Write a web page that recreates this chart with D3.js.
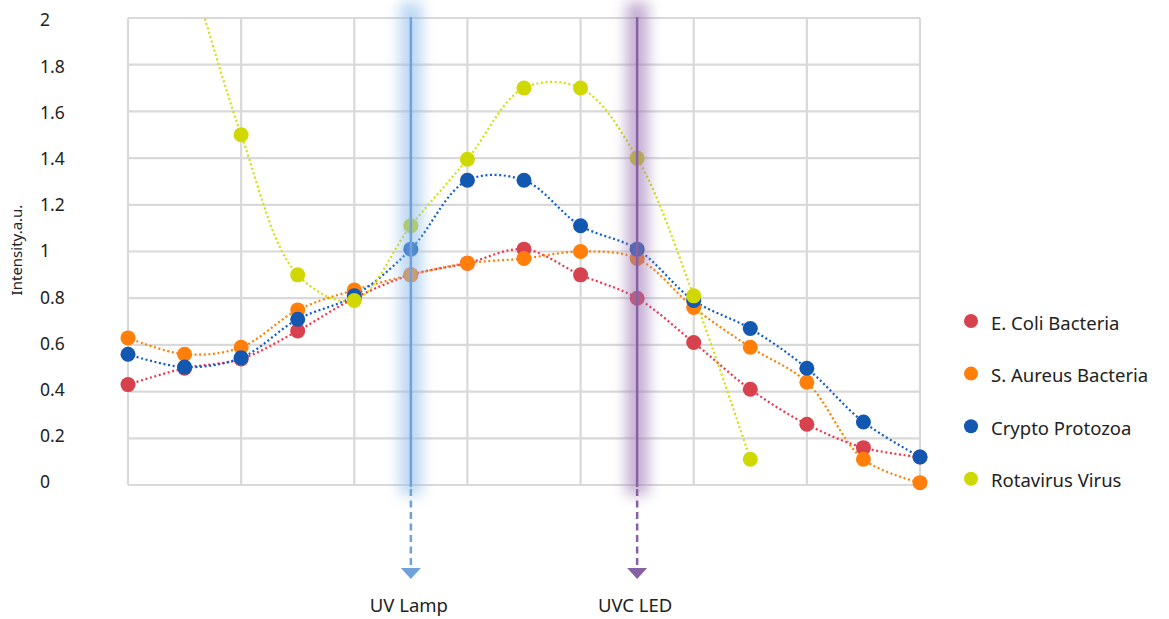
<!DOCTYPE html>
<html><head><meta charset="utf-8">
<script src="https://cdn.jsdelivr.net/npm/d3@7"></script>
<style>
html,body{margin:0;padding:0;background:#fff;}
svg{display:block;font-family:"Noto Sans",sans-serif;}
</style></head>
<body>
<svg id="chart" width="1169" height="619"></svg>
<script>
const xIndex = [0,1,2,3,4,5,6,7,8,9,10,11,12,13,14];
const seriesNames = ["E. Coli Bacteria","S. Aureus Bacteria","Crypto Protozoa","Rotavirus Virus"];
const eColi    = [0.43,0.50,0.54,0.66,0.80,0.90,0.95,1.01,0.90,0.80,0.61,0.41,0.26,0.16,0.12];
const sAureus  = [0.63,0.56,0.59,0.75,0.835,0.90,0.95,0.97,1.00,0.97,0.76,0.59,0.44,0.11,0.01];
const crypto   = [0.56,0.505,0.545,0.71,0.81,1.01,1.305,1.305,1.11,1.01,0.79,0.67,0.50,0.27,0.12];
const rotavirus= [null,2.30,1.50,0.90,0.79,1.11,1.395,1.70,1.70,1.40,0.81,0.11,null,null,null];
const yTicks = [0,0.2,0.4,0.6,0.8,1,1.2,1.4,1.6,1.8,2];
const yTickLabels = ["0","0.2","0.4","0.6","0.8","1","1.2","1.4","1.6","1.8","2"];
const lampNames = ["UV Lamp","UVC LED"];
const lampIndex = [5,9];
const yTitle = "Intensity.a.u.";

const markerColors = ["#d8414e","#ff7f0a","#1257b0","#cfd800"];
const lineColors   = ["#f0344a","#ff8000","#0d5bd0","#d4e000"];
const lampColors = ["#6ea2dc","#8661a3"];
const glowColors = ["#8dbbea","#9d78b5"];

const svg = d3.select("#chart");
const x = d3.scaleLinear().domain([0,14]).range([128,920]);
const y = d3.scaleLinear().domain([0,2]).range([485,18]);
const yLab = d3.scaleLinear().domain([0,2]).range([482,20]);

const defs = svg.append("defs");
defs.append("clipPath").attr("id","plotclip").append("rect")
  .attr("x",x(0)-20).attr("y",y(2)-1).attr("width",x(14)-x(0)+40).attr("height",y(0)-y(2)+30);
const f = defs.append("filter").attr("id","glow").attr("x","-200%").attr("y","-20%").attr("width","500%").attr("height","140%");
f.append("feGaussianBlur").attr("stdDeviation",7);

// grid
const g = svg.append("g");
g.selectAll("line.h").data(yTicks).join("line")
  .attr("x1",x(0)).attr("x2",x(14)).attr("y1",d=>y(d)).attr("y2",d=>y(d))
  .attr("stroke","#d9d9d9").attr("stroke-width",2.2);
g.selectAll("line.v").data(xIndex.filter(i=>i%2===0)).join("line")
  .attr("x1",d=>x(d)).attr("x2",d=>x(d)).attr("y1",y(2)).attr("y2",y(0))
  .attr("stroke","#d9d9d9").attr("stroke-width",2.2);

// y labels
svg.append("g").selectAll("text").data(yTicks).join("text")
  .attr("x",40).attr("y",d=>yLab(d)).attr("dy","0.36em")
  .attr("font-size",17.5).attr("fill","#222")
  .text((d,i)=>yTickLabels[i]);
svg.append("text").attr("transform","translate(22,250) rotate(-90)")
  .attr("text-anchor","middle").attr("font-size",15).attr("fill","#222").text(yTitle);

// lines
const allSeries = [eColi,sAureus,crypto,rotavirus];
const line = d3.line().defined(d=>d[1]!=null).x(d=>x(d[0])).y(d=>y(d[1]))
  .curve(d3.curveCatmullRom.alpha(0.5));
const lg = svg.append("g").attr("clip-path","url(#plotclip)");
allSeries.forEach((s,k)=>{
  lg.append("path").datum(xIndex.map(i=>[i,s[i]]))
    .attr("d",line).attr("fill","none").attr("stroke",lineColors[k])
    .attr("stroke-width",2.2).attr("stroke-dasharray","2,2.6");
});
// markers
const mg = svg.append("g");
allSeries.forEach((s,k)=>{
  mg.selectAll(null).data(xIndex.filter(i=>s[i]!=null && s[i]<=2)).join("circle")
    .attr("cx",i=>x(i)).attr("cy",i=>y(s[i])).attr("r",7.5).attr("fill",markerColors[k]);
});

// lamps
lampIndex.forEach((li,k)=>{
  const cx = x(li);
  svg.append("rect").attr("x",cx-11).attr("y",2).attr("width",22).attr("height",y(0)+8)
    .attr("fill",glowColors[k]).attr("opacity",0.6).attr("filter","url(#glow)");
  svg.append("line").attr("x1",cx).attr("x2",cx).attr("y1",y(2)-1).attr("y2",y(0)+2)
    .attr("stroke",lampColors[k]).attr("stroke-width",2.5);
  svg.append("line").attr("x1",cx).attr("x2",cx).attr("y1",y(0)+4).attr("y2",569)
    .attr("stroke",lampColors[k]).attr("stroke-width",2.5).attr("stroke-dasharray","7,4.5");
  svg.append("path").attr("d",`M${cx-10},568 L${cx+10},568 L${cx},579 Z`).attr("fill",lampColors[k]);
  svg.append("text").attr("x",cx-2).attr("y",605).attr("dy","0.36em").attr("text-anchor","middle")
    .attr("font-size",18.5).attr("fill","#222").text(lampNames[k]);
});

// legend
const leg = svg.append("g");
seriesNames.forEach((n,k)=>{
  const ly = 321 + k*52.6;
  leg.append("circle").attr("cx",971).attr("cy",ly).attr("r",7).attr("fill",markerColors[k]);
  leg.append("text").attr("x",991).attr("y",ly+2).attr("dy","0.36em").attr("font-size",18.5)
    .attr("fill","#222").text(n);
});
</script>
</body></html>
